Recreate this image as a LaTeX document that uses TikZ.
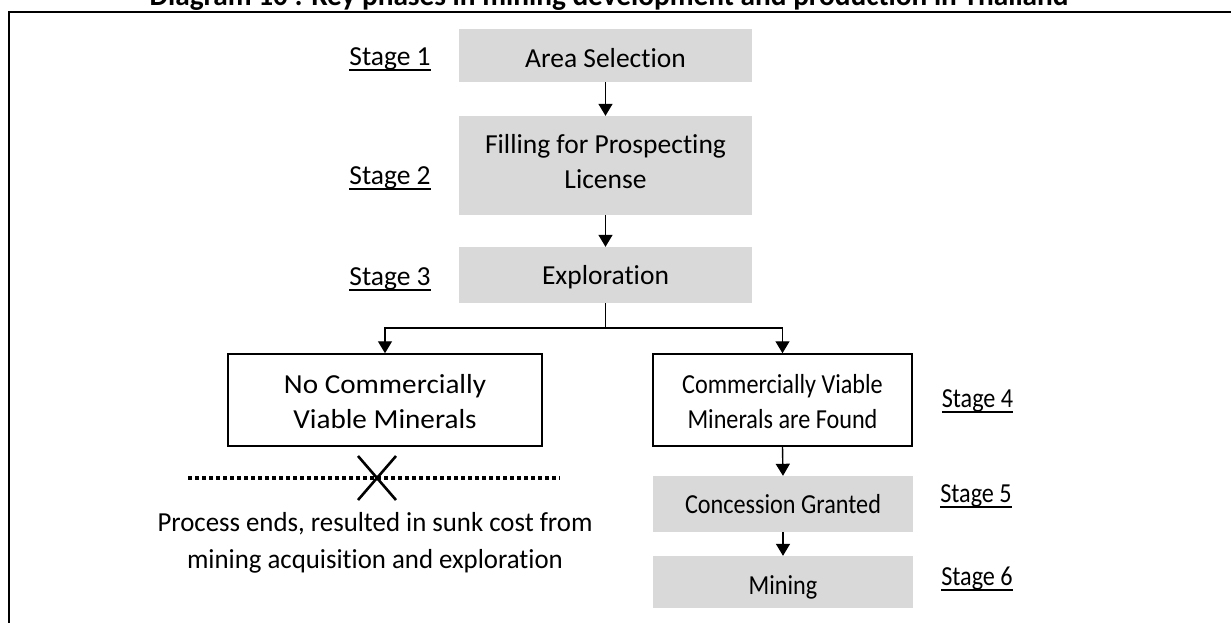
\documentclass[tikz,border=0pt]{standalone}
\usepackage{fontspec}
\setmainfont[Ligatures=NoCommon]{Carlito}
\newfontfamily\narrowf[FakeStretch=0.88,Ligatures=NoCommon]{Carlito}
\newfontfamily\widef[FakeStretch=1.06,Ligatures=NoCommon]{Carlito}
\newfontfamily\procf[FakeStretch=0.975,Ligatures=NoCommon]{Carlito}
\usetikzlibrary{arrows.meta}
\definecolor{boxgray}{HTML}{D9D9D9}
\newcommand{\fsz}{\fontsize{27.5}{35}\selectfont}
\newcommand{\ulbl}[1]{\setbox0\hbox{#1}\rlap{\vrule height -3.5pt depth 5.7pt width \wd0}\box0}
\begin{document}
\begin{tikzpicture}[x=1pt,y=-1pt,
  graybox/.style={fill=boxgray, inner sep=0pt, align=center, font=\fsz, text depth=0pt, text height=20pt},
  whitebox/.style={draw=black, line width=1.5pt, fill=white, inner sep=0pt, align=center, font=\fsz, text depth=0pt, text height=56pt},
  stagelbl/.style={inner sep=0pt, anchor=base, font=\fsz},
  conn/.style={line width=1.4pt, -{Triangle[width=14pt,length=12pt]}},
  plainline/.style={line width=1.4pt}]
\useasboundingbox (0,0) rectangle (1231,622);
\clip (0,0) rectangle (1231,622);
% frame
\draw[line width=1.8pt] (9,640) -- (9,12) -- (1250,12);
% title
\node[anchor=base, inner sep=0pt, font=\fontsize{29.3}{35}\selectfont\bfseries] (title) at (609,5) {Diagram 10 : Key phases in mining development and production in Thailand};
% boxes
\node[graybox, minimum width=293pt, minimum height=53pt, text height=23pt] (area) at (605.5,55.5) {Area Selection};
\node[graybox, minimum width=293pt, minimum height=99pt, text height=45pt] (fill) at (605.5,165.5) {Filling for Prospecting\\License};
\node[graybox, minimum width=293pt, minimum height=56pt, text height=19pt] (explo) at (605.5,275) {Exploration};
\node[whitebox, minimum width=314pt, minimum height=92pt, font=\fsz\widef] (nocv) at (385,400) {No Commercially\\Viable Minerals};
\node[whitebox, minimum width=259pt, minimum height=92pt, font=\fsz\narrowf] (cv) at (782.5,400) {Commercially Viable\\Minerals are Found};
\node[graybox, minimum width=260pt, minimum height=56pt, font=\fsz\narrowf, text height=18pt] (conc) at (783,504) {Concession Granted};
\node[graybox, minimum width=260pt, minimum height=52pt, font=\fsz\narrowf, text height=24pt] (mine) at (783,582) {Mining};
% stage labels
\node[stagelbl] (s1) at (390,65) {\ulbl{Stage 1}};
\node[stagelbl] (s2) at (390,184) {\ulbl{Stage 2}};
\node[stagelbl] (s3) at (390,285) {\ulbl{Stage 3}};
\node[stagelbl, font=\fsz\narrowf] (s4) at (977.5,407) {\ulbl{Stage 4}};
\node[stagelbl, font=\fsz\narrowf] (s5) at (976,502) {\ulbl{Stage 5}};
\node[stagelbl, font=\fsz\narrowf] (s6) at (977,585.5) {\ulbl{Stage 6}};
% connectors
\draw[conn] (area.south) -- (fill.north);
\draw[conn] (fill.south) -- (explo.north);
\coordinate (split) at (605.5,328);
\draw[plainline] (explo.south) -- (split);
\draw[conn] (split) -| (nocv.north);
\draw[conn] (split) -| (cv.north);
\draw[conn] (cv.south) -- (conc.north);
\draw[conn] (conc.south) -- (mine.north);
% dead end
\coordinate (dl) at (188,478);
\coordinate (dr) at (560,478);
\draw[line width=4.5pt, dash pattern=on 4pt off 3pt] (dl) -- (dr);
\coordinate (xc) at (377,478);
\draw[line width=2.6pt] ([shift={(-19,-22)}]xc) -- ([shift={(19,22)}]xc);
\draw[line width=2.6pt] ([shift={(19,-22)}]xc) -- ([shift={(-19,22)}]xc);
\node[inner sep=0pt, align=center, font=\fontsize{27.5}{36.5}\selectfont\procf, anchor=base] (endtxt) at (375,568) {Process ends, resulted in sunk cost from\\mining acquisition and exploration};
\end{tikzpicture}
\end{document}
